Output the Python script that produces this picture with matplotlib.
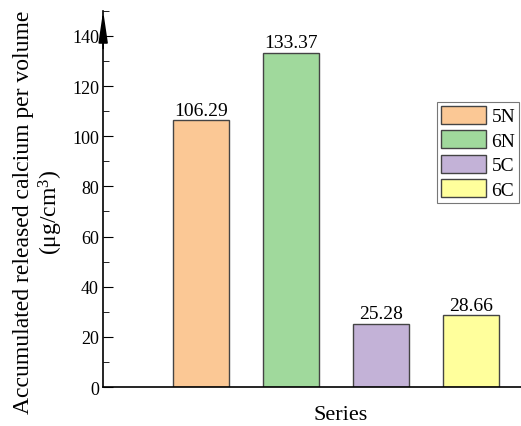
import matplotlib
matplotlib.use('Agg')
import matplotlib.pyplot as plt
from matplotlib.ticker import MultipleLocator

series = ['5N', '6N', '5C', '6C']
values = [106.29, 133.37, 25.28, 28.66]
colors = ['#FBC895', '#A0D99C', '#C3B2D7', '#FFFF9C']

plt.rcParams['font.family'] = ['Liberation Serif', 'DejaVu Serif']
plt.rcParams['mathtext.fontset'] = 'custom'
plt.rcParams['mathtext.rm'] = 'Liberation Serif'

fig = plt.figure(figsize=(5.21, 4.27), dpi=100)
ax = fig.add_axes([0.198, 0.0913, 0.802, 0.881])

xs = list(range(1, len(series) + 1))
bars = ax.bar(xs, values, width=0.62, color=colors, edgecolor='#444444',
              linewidth=1.0, label=series)
for x, v in zip(xs, values):
    ax.text(x, v + 0.6, f'{v:.2f}', ha='center', va='bottom', fontsize=14)

ax.set_xlim(-0.09, 4.56)
ax.set_ylim(0, 150)
ax.yaxis.set_minor_locator(MultipleLocator(10))
ax.set_yticks(range(0, 141, 20))
ax.tick_params(axis='y', which='major', direction='in', length=7, labelsize=13, pad=3)
ax.tick_params(axis='y', which='minor', direction='in', length=4)
ax.tick_params(axis='x', bottom=False, labelbottom=False)
for s in ['top', 'right']:
    ax.spines[s].set_visible(False)
ax.spines['left'].set_linewidth(1.2)
ax.spines['bottom'].set_linewidth(1.2)

# arrow at the top of the y axis
ax.annotate('', xy=(0, 1.0), xytext=(0, 0.9), xycoords='axes fraction',
            arrowprops=dict(arrowstyle='-|>,head_length=1.9,head_width=0.28',
                            color='black', lw=1.2, shrinkA=0, shrinkB=0))

fig.text(0.075, 0.503, 'Accumulated released calcium per volume\n(μg/cm$\\mathregular{^3}$)',
         rotation=90, ha='center', va='center', multialignment='center',
         fontsize=17, linespacing=1.1)
fig.text(0.653, 0.028, 'Series', ha='center', va='center', fontsize=16)

leg = ax.legend(loc='upper left', bbox_to_anchor=(0.799, 0.758), fontsize=14,
                frameon=True, fancybox=False, edgecolor='#555555',
                handlelength=2.3, handleheight=1.05, handletextpad=0.3,
                labelspacing=0.25, borderpad=0.2, borderaxespad=0)
leg.get_frame().set_linewidth(0.8)

fig.savefig('out.png', dpi=100)
